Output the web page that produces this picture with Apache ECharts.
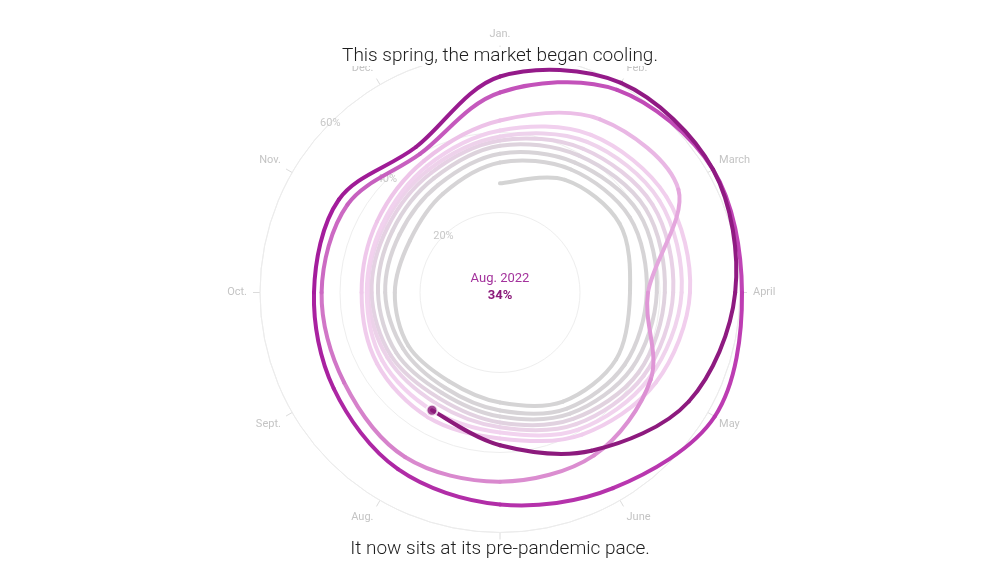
<!DOCTYPE html>
<html>
<head>
<meta charset="utf-8">
<script src="https://cdn.jsdelivr.net/npm/echarts@6/dist/echarts.min.js"></script>
<style>
html,body{margin:0;padding:0;background:#fff;}
#chart{width:1000px;height:585px;}
</style>
</head>
<body>
<div id="chart"></div>
<script>
// ---- data (share of homes, %), one array per year, Jan..Dec ----
const months = ['Jan.','Feb.','March','April','May','June','July','Aug.','Sept.','Oct.','Nov.','Dec.'];
const radiusTicks = [0, 20, 40, 60];
const firstYear = 2013;
const y2013 = [27.3, 32.5, 34.5, 32.5, 33.5, 31.5, 27.5, 25.6, 26.5, 26.3, 26.0, 28.5];
const y2014 = [32.5, 35.5, 37.5, 36.7, 36.0, 33.5, 29.5, 27.5, 28.0, 28.7, 29.0, 31.0];
const y2015 = [34.7, 37.5, 40.0, 39.2, 38.0, 35.0, 31.0, 29.0, 30.0, 30.5, 31.0, 33.0];
const y2016 = [36.7, 39.5, 42.0, 41.2, 40.0, 36.5, 32.5, 30.5, 31.5, 32.1, 32.5, 34.5];
const y2017 = [38.0, 41.5, 44.0, 43.3, 41.5, 38.0, 33.7, 32.0, 32.5, 33.0, 33.5, 35.5];
const y2018 = [39.0, 43.5, 46.0, 45.4, 43.0, 39.5, 35.0, 34.0, 34.0, 33.3, 34.0, 36.5];
const y2019 = [40.5, 45.5, 48.0, 47.5, 45.0, 41.0, 36.5, 36.0, 35.5, 34.6, 35.5, 38.0];
const y2020 = [43.0, 50.0, 51.5, 37.0, 43.5, 47.0, 47.3, 47.5, 45.0, 44.6, 44.0, 40.0];
const y2021 = [50.0, 58.5, 61.5, 60.5, 62.0, 56.5, 53.0, 51.0, 48.0, 46.5, 46.5, 42.0];
const y2022 = [54.0, 60.5, 61.5, 58.8, 54.5, 45.7, 38.2, 34.0];
const years = [y2013, y2014, y2015, y2016, y2017, y2018, y2019, y2020, y2021, y2022];
// line colour along time: [year fraction, colour]
const colorStops = [
  [2013.0, '#d4d4d4'], [2015.5, '#d9d4d9'], [2017.0, '#e6d1e4'], [2018.5, '#f2d3ef'],
  [2019.7, '#f0ccec'], [2020.1, '#ebbce6'], [2020.3, '#de94d5'], [2020.6, '#d886cc'],
  [2020.85, '#c862c0'], [2021.3, '#bd3cb2'], [2021.8, '#a41c9c'], [2022.1, '#901a84'],
  [2022.6, '#8b1a7a']
];
const endLabel = 'Aug. 2022';

// ---- helpers ----
function hex(c) { return [1, 3, 5].map(i => parseInt(c.slice(i, i + 2), 16)); }
function colorAt(t) {
  if (t <= colorStops[0][0]) return colorStops[0][1];
  for (let k = 1; k < colorStops.length; k++) {
    if (t <= colorStops[k][0]) {
      const a = colorStops[k - 1], b = colorStops[k];
      const f = (t - a[0]) / (b[0] - a[0]);
      const ca = hex(a[1]), cb = hex(b[1]);
      return 'rgb(' + ca.map((v, j) => Math.round(v + (cb[j] - v) * f)).join(',') + ')';
    }
  }
  return colorStops[colorStops.length - 1][1];
}

// ---- build ----
const pts = [];
const times = [];
years.forEach((arr, yi) => arr.forEach((v, m) => { pts.push([v, m]); times.push(firstYear + yi + m / 12); }));
const last = pts[pts.length - 1];

const FONT = 'Roboto, "Noto Sans", sans-serif';
const chart = echarts.init(document.getElementById('chart'), null, { renderer: 'canvas' });
chart.setOption({
  animation: false,
  backgroundColor: '#fff',
  title: [
    { text: 'This spring, the market began cooling.', left: 'center', top: 47, padding: [0, 4],
      backgroundColor: '#fff',
      textStyle: { fontFamily: FONT, fontSize: 19, fontWeight: 300, color: '#1e1e1e', lineHeight: 19 } },
    { text: 'It now sits at its pre-pandemic pace.', left: 'center', top: 540, padding: [0, 4],
      backgroundColor: '#fff',
      textStyle: { fontFamily: FONT, fontSize: 19, fontWeight: 300, color: '#1e1e1e', lineHeight: 19 } },
    { text: endLabel, subtext: Math.round(last[0]) + '%', left: 'center', top: 271, itemGap: 1, padding: 0,
      textStyle: { fontFamily: FONT, fontSize: 13, fontWeight: 400, color: '#a3329c', lineHeight: 16 },
      subtextStyle: { fontFamily: FONT, fontSize: 13, fontWeight: 700, color: '#8b1a7a', lineHeight: 16 } }
  ],
  polar: [
    { center: ['50%', '50%'], radius: 240 },
    { center: ['50%', '50%'], radius: 240 }
  ],
  angleAxis: [
    { polarIndex: 0, type: 'value', min: 0, max: 12, interval: 1, startAngle: 90, clockwise: true,
      axisLine: { lineStyle: { color: '#ececec', width: 1 } },
      axisTick: { show: true, length: 7, lineStyle: { color: '#dcdcdc' } },
      axisLabel: { margin: 13, color: '#c4c4c4', fontSize: 11, fontFamily: FONT,
        formatter: v => months[v] || '' },
      splitLine: { show: false } },
    { polarIndex: 1, type: 'value', min: 0, max: 360, startAngle: 135, show: false }
  ],
  radiusAxis: [
    { polarIndex: 0, type: 'value', min: 0, max: 60, interval: 20,
      axisLine: { show: false }, axisTick: { show: false }, axisLabel: { show: false },
      splitLine: { show: true, lineStyle: { color: '#eeeeee', width: 1 } } },
    { polarIndex: 1, type: 'value', min: radiusTicks[0], max: radiusTicks[radiusTicks.length - 1], interval: 20,
      axisLine: { show: false }, axisTick: { show: false }, splitLine: { show: false },
      axisLabel: { margin: 0, align: 'center', verticalAlign: 'middle', color: '#c8c8c8', fontSize: 11, fontFamily: FONT,
        formatter: v => (v === 0 ? '' : v + '%') } }
  ],
  series: [
    {
      type: 'custom', coordinateSystem: 'polar', polarIndex: 0,
      dimensions: ['radius', 'angle'], encode: { radius: 0, angle: 1 },
      data: pts, silent: true, z: 2,
      renderItem: function (params, api) {
        const i = params.dataIndex;
        const n = pts.length;
        if (i >= n - 1) return null;
        const c = j => api.coord(pts[Math.max(0, Math.min(n - 1, j))]);
        const p0 = c(i - 1), p1 = c(i), p2 = c(i + 1), p3 = c(i + 2);
        const t = 1 / 6;
        return {
          type: 'bezierCurve', z2: i,
          shape: {
            x1: p1[0], y1: p1[1], x2: p2[0], y2: p2[1],
            cpx1: p1[0] + (p2[0] - p0[0]) * t, cpy1: p1[1] + (p2[1] - p0[1]) * t,
            cpx2: p2[0] - (p3[0] - p1[0]) * t, cpy2: p2[1] - (p3[1] - p1[1]) * t
          },
          style: { fill: null, stroke: colorAt((times[i] + times[i + 1]) / 2), lineWidth: 4, lineCap: 'round' }
        };
      }
    },
    {
      type: 'scatter', coordinateSystem: 'polar', polarIndex: 0,
      data: [last], symbolSize: 11, silent: true, z: 5,
      itemStyle: { color: '#8b1a7a', borderColor: '#fff', borderWidth: 2 }
    }
  ]
});
</script>
</body>
</html>
